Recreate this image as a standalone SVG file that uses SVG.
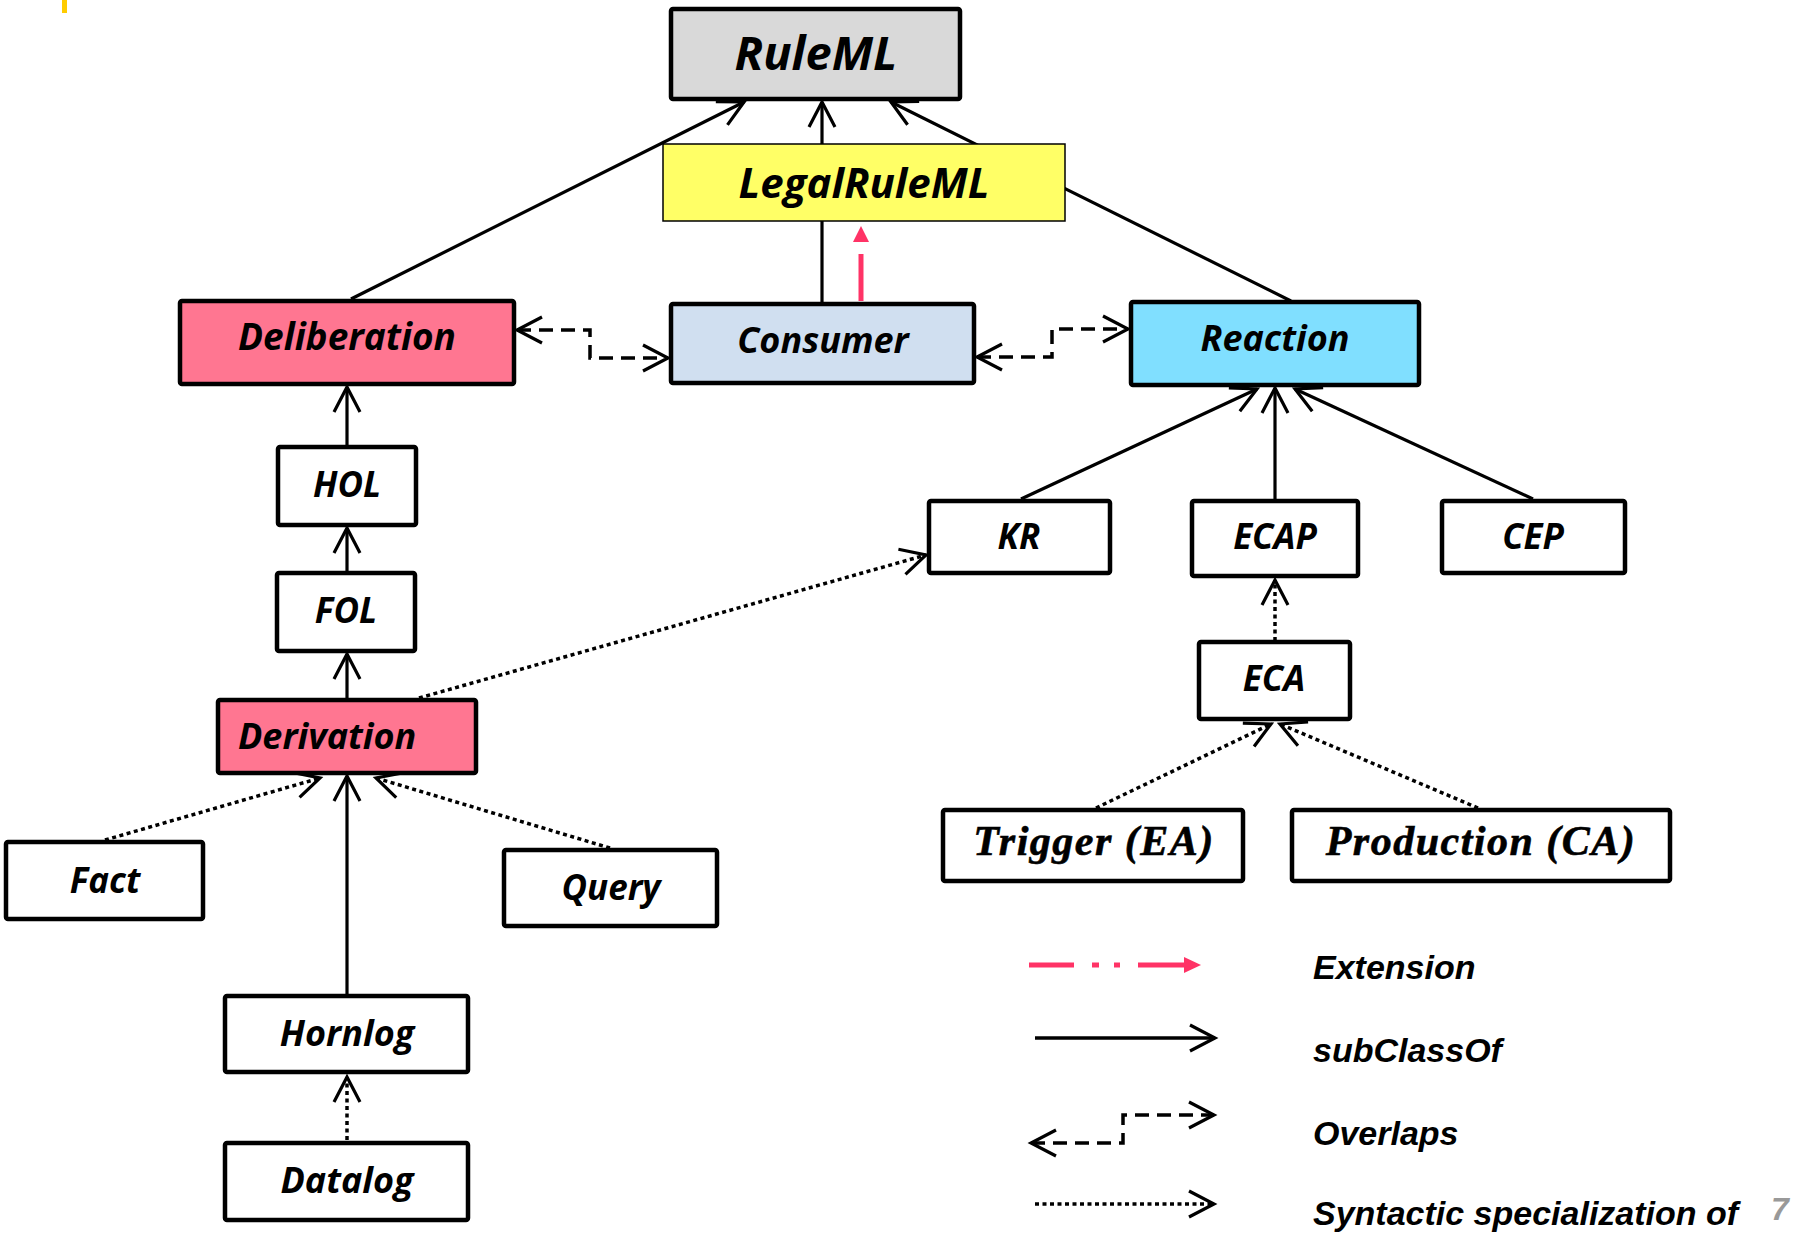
<svg xmlns="http://www.w3.org/2000/svg" width="1802" height="1234" viewBox="0 0 1802 1234">
  <style>
    .box { stroke: #000; stroke-width: 4.5; }
    .thin { stroke: #000; stroke-width: 1.5; }
    .lbl { font-family: "Open Sans", "Noto Sans", "DejaVu Sans", sans-serif; font-weight: bold; font-style: italic; fill: #000; text-anchor: middle; }
    .serif { font-family: "Liberation Serif", "DejaVu Serif", serif; font-weight: bold; font-style: italic; fill: #000; text-anchor: middle; letter-spacing: 1.5px; stroke: #000; stroke-width: 0.6; }
    .leg { font-family: "Liberation Sans", Arial, sans-serif; font-weight: bold; font-style: italic; fill: #000; font-size: 34px; }
    .sub { fill: none; stroke: #000; stroke-width: 3.2; marker-end: url(#open); }
    .ovl { fill: none; stroke: #000; stroke-width: 3.5; stroke-dasharray: 14 8; marker-start: url(#openRev); marker-end: url(#open); }
    .syn { fill: none; stroke: #000; stroke-width: 3.5; stroke-dasharray: 4 3.5; marker-end: url(#open); }
    .ext { stroke: #FF3366; stroke-width: 5; }
  </style>
  <defs>
    <marker id="open" markerUnits="userSpaceOnUse" viewBox="-30 -18 34 36" refX="0" refY="0" markerWidth="34" markerHeight="36" orient="auto" overflow="visible">
      <path d="M-25,-13 L0,0 L-25,13" fill="none" stroke="#000" stroke-width="3.2" stroke-dasharray="none"/>
    </marker>
    <marker id="openRev" markerUnits="userSpaceOnUse" viewBox="-4 -18 34 36" refX="0" refY="0" markerWidth="34" markerHeight="36" orient="auto" overflow="visible">
      <path d="M25,-13 L0,0 L25,13" fill="none" stroke="#000" stroke-width="3.2" stroke-dasharray="none"/>
    </marker>
  </defs>

  <rect width="1802" height="1234" fill="#fff"/>
  <!-- small yellow tab at the top-left -->
  <rect x="62" y="0" width="5" height="13" fill="#FFCC00"/>

  <g id="connectors">
    <!-- subClassOf -->
    <path class="sub" d="M351,299 L744,102"/>
    <path class="sub" d="M822,303 L822,102"/>
    <path class="sub" d="M1291,301 L891,102"/>
    <path class="sub" d="M347,447 L347,387"/>
    <path class="sub" d="M347,573 L347,528"/>
    <path class="sub" d="M347,700 L347,654"/>
    <path class="sub" d="M347,996 L347,776"/>
    <path class="sub" d="M1021,499 L1257,389"/>
    <path class="sub" d="M1275,499 L1275,388"/>
    <path class="sub" d="M1533,499 L1295,389"/>
    <!-- overlaps -->
    <path class="ovl" d="M517,330 H590 V358 H668"/>
    <path class="ovl" d="M977,357 H1052 V329 H1128"/>
    <!-- syntactic specialization -->
    <path class="syn" d="M347,1140 L347,1077"/>
    <path class="syn" d="M105,840 L320,778"/>
    <path class="syn" d="M610,848 L376,778"/>
    <path class="syn" d="M419,698 L926,555"/>
    <path class="syn" d="M1275,641 L1275,580"/>
    <path class="syn" d="M1096,808 L1271,724"/>
    <path class="syn" d="M1478,808 L1280,724"/>
    <!-- extension -->
    <line class="ext" x1="861" y1="301" x2="861" y2="254"/>
    <polygon points="861,226 853,242 869,242" fill="#FF3366"/>
  </g>

  <g id="RuleML">
    <rect class="box" x="671" y="9" width="289" height="90" rx="2" fill="#D9D9D9"/>
    <text class="lbl" x="816" y="70" font-size="47">RuleML</text>
  </g>
  <g id="LegalRuleML">
    <rect class="thin" x="663" y="144" width="402" height="77" fill="#FFFF66"/>
    <text class="lbl" x="864" y="198" font-size="42">LegalRuleML</text>
  </g>
  <g id="Deliberation">
    <rect class="box" x="180" y="301" width="334" height="83" rx="2" fill="#FF7691"/>
    <text class="lbl" x="347" y="350" font-size="37">Deliberation</text>
  </g>
  <g id="Consumer">
    <rect class="box" x="671" y="304" width="303" height="79" rx="2" fill="#D0DFF0"/>
    <text class="lbl" x="823" y="353" font-size="36">Consumer</text>
  </g>
  <g id="Reaction">
    <rect class="box" x="1131" y="302" width="288" height="83" rx="2" fill="#80DFFF"/>
    <text class="lbl" x="1275" y="351" font-size="36">Reaction</text>
  </g>
  <g id="KR">
    <rect class="box" x="929" y="501" width="181" height="72" rx="2" fill="#fff"/>
    <text class="lbl" x="1019" y="549" font-size="35">KR</text>
  </g>
  <g id="ECAP">
    <rect class="box" x="1192" y="501" width="166" height="75" rx="2" fill="#fff"/>
    <text class="lbl" x="1275" y="549" font-size="35">ECAP</text>
  </g>
  <g id="CEP">
    <rect class="box" x="1442" y="501" width="183" height="72" rx="2" fill="#fff"/>
    <text class="lbl" x="1533" y="549" font-size="35">CEP</text>
  </g>
  <g id="ECA">
    <rect class="box" x="1199" y="642" width="151" height="77" rx="2" fill="#fff"/>
    <text class="lbl" x="1274" y="691" font-size="35">ECA</text>
  </g>
  <g id="Trigger">
    <rect class="box" x="943" y="810" width="300" height="71" rx="2" fill="#fff"/>
    <text class="serif" x="1094" y="855" font-size="42">Trigger (EA)</text>
  </g>
  <g id="Production">
    <rect class="box" x="1292" y="810" width="378" height="71" rx="2" fill="#fff"/>
    <text class="serif" x="1481" y="855" font-size="42">Production (CA)</text>
  </g>
  <g id="HOL">
    <rect class="box" x="278" y="447" width="138" height="78" rx="2" fill="#fff"/>
    <text class="lbl" x="347" y="497" font-size="35">HOL</text>
  </g>
  <g id="FOL">
    <rect class="box" x="277" y="573" width="138" height="78" rx="2" fill="#fff"/>
    <text class="lbl" x="346" y="623" font-size="35">FOL</text>
  </g>
  <g id="Derivation">
    <rect class="box" x="218" y="700" width="258" height="73" rx="2" fill="#FF7691"/>
    <text class="lbl" x="238" y="749" font-size="36" style="text-anchor:start">Derivation</text>
  </g>
  <g id="Fact">
    <rect class="box" x="6" y="842" width="197" height="77" rx="2" fill="#fff"/>
    <text class="lbl" x="105" y="893" font-size="35">Fact</text>
  </g>
  <g id="Query">
    <rect class="box" x="504" y="850" width="213" height="76" rx="2" fill="#fff"/>
    <text class="lbl" x="611" y="900" font-size="35">Query</text>
  </g>
  <g id="Hornlog">
    <rect class="box" x="225" y="996" width="243" height="76" rx="2" fill="#fff"/>
    <text class="lbl" x="347" y="1046" font-size="36">Hornlog</text>
  </g>
  <g id="Datalog">
    <rect class="box" x="225" y="1143" width="243" height="77" rx="2" fill="#fff"/>
    <text class="lbl" x="347" y="1193" font-size="36">Datalog</text>
  </g>

  <g id="legend">
    <!-- extension: dash, dot, dot, dash, filled head -->
    <line class="ext" x1="1029" y1="965" x2="1074" y2="965"/>
    <line class="ext" x1="1092" y1="965" x2="1099" y2="965"/>
    <line class="ext" x1="1114" y1="965" x2="1120" y2="965"/>
    <line class="ext" x1="1138" y1="965" x2="1186" y2="965"/>
    <polygon points="1201,965 1184,957 1184,973" fill="#FF3366"/>
    <text class="leg" x="1313" y="979">Extension</text>

    <path class="sub" style="stroke-width:3.5" d="M1035,1038 L1215,1038"/>
    <text class="leg" x="1313" y="1062">subClassOf</text>

    <path class="ovl" d="M1031,1143 H1123 V1115 H1214"/>
    <text class="leg" x="1313" y="1145">Overlaps</text>

    <path class="syn" d="M1035,1204 L1214,1204"/>
    <text class="leg" x="1313" y="1225">Syntactic specialization of</text>
  </g>
  <text x="1771" y="1220" font-family="Liberation Sans, Arial, sans-serif" font-weight="bold" font-style="italic" font-size="32" fill="#999999">7</text>
</svg>
